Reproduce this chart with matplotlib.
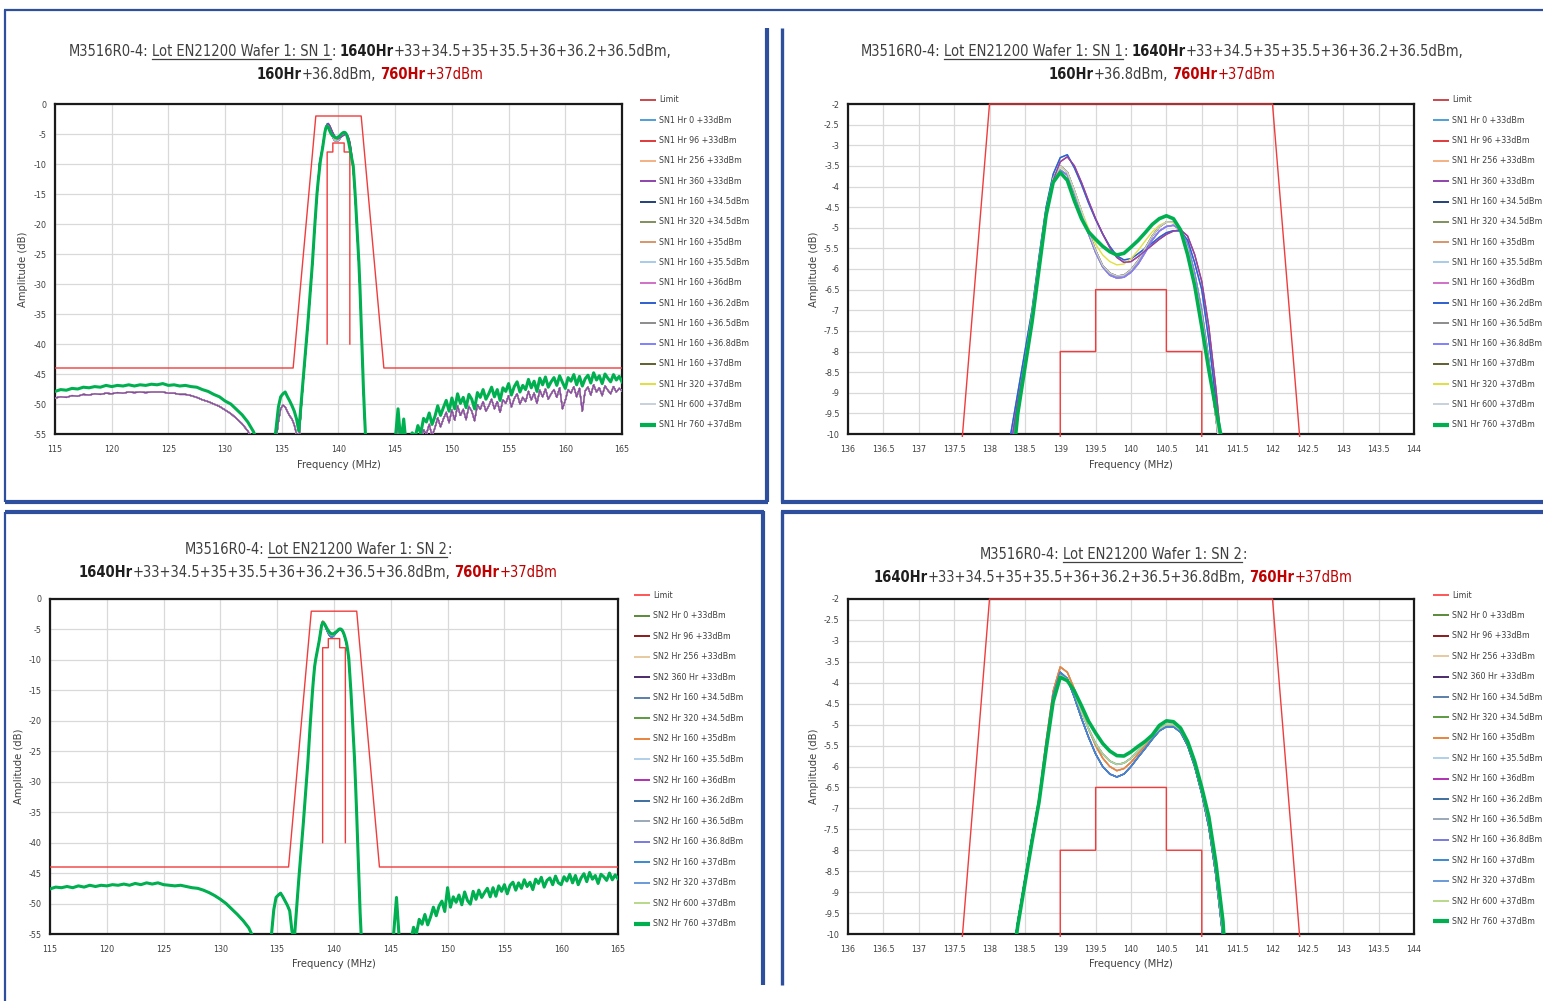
import os
import numpy as np
import matplotlib
matplotlib.use('Agg')
import matplotlib.pyplot as plt
from matplotlib import font_manager
from matplotlib.lines import Line2D
from matplotlib.ticker import MultipleLocator, FormatStrFormatter
from matplotlib.transforms import Bbox, TransformedBbox

# ---------------------------------------------------------------- data
LOW_FREQ = np.arange(115.0, 133.01, 0.5)          # 37 points
LEFT_FREQ = [134.3, 134.5, 134.7, 134.9, 135.1, 135.3, 135.5, 135.7, 135.9, 136.1,
             136.3, 136.5, 136.7, 136.9, 137.1, 137.3, 137.5, 137.7, 137.9, 138.1, 138.2]
PASS_FREQ = np.arange(138.3, 141.41, 0.1)         # 32 points
RIGHT_FREQ = [141.5, 141.6, 141.7, 141.8, 141.9, 142.0, 142.1, 142.2, 142.3, 142.4, 142.5, 142.7]
HIGH_FREQ = np.arange(144.5, 165.01, 0.25)        # 83 points

LIMIT_FREQ = [115, 136, 138, 142, 144, 165, np.nan, 139, 139, 139.5, 139.5, 140.5, 140.5, 141, 141]
LIMIT_DB = [-44, -44, -2, -2, -44, -44, np.nan, -40, -8, -8, -6.5, -6.5, -8, -8, -40]

# SN1 stop bands: green (760 Hr) and the other traces
SN1_G_LOW = [-47.9, -47.6, -47.7, -47.4, -47.5, -47.2, -47.3, -47.1, -47.2, -46.9,
             -47.1, -46.9, -47.0, -46.8, -47.0, -46.8, -46.9, -46.7, -46.8, -46.6,
             -46.9, -46.8, -47.0, -46.9, -47.1, -47.2, -47.6, -47.9, -48.4, -48.8,
             -49.5, -50.0, -50.9, -51.8, -53.0, -54.6, -57.0]
SN1_O_LOW = [-49.0, -48.8, -48.9, -48.6, -48.7, -48.4, -48.5, -48.3, -48.4, -48.2,
             -48.3, -48.1, -48.2, -48.0, -48.1, -48.0, -48.1, -48.0, -48.0, -48.0,
             -48.2, -48.2, -48.4, -48.4, -48.6, -48.9, -49.3, -49.6, -50.0, -50.4,
             -51.0, -51.6, -52.4, -53.3, -54.5, -56.0, -58.0]
SN1_G_LEFT = [-57.0, -54.0, -50.5, -48.8, -48.3, -48.0, -48.8, -49.5, -50.3, -51.2,
              -52.5, -54.5, -50.0, -45.5, -41.2, -36.5, -31.5, -26.5, -20.5, -15.0, -13.0]
SN1_O_LEFT = [-59.0, -56.0, -53.0, -50.8, -50.2, -50.5, -51.3, -52.0, -52.5, -53.5,
              -55.0, -56.5, -51.0, -46.0, -41.5, -36.8, -31.8, -26.8, -20.8, -15.3, -13.2]
SN1_G_RIGHT = [-16.0, -19.5, -23.0, -26.5, -31.0, -36.5, -42.0, -47.5, -52.0, -56.0, -59.0, -63.0]
SN1_O_RIGHT = [-16.5, -20.0, -23.5, -27.0, -31.5, -37.0, -42.5, -48.0, -52.5, -56.5, -59.5, -63.5]
SN1_G_HIGH = [-60.0, -58.0,
              -56.0, -50.8, -56.5, -52.5,
              -57.5, -56.0, -54.8, -55.6,
              -53.6, -54.9, -52.4, -53.0,
              -51.5, -53.4, -52.1, -50.3,
              -51.9, -50.6, -49.4, -51.2,
              -49.0, -50.8, -48.3, -49.9,
              -48.9, -50.6, -48.4, -49.2,
              -50.8, -48.1, -48.9, -47.6,
              -49.2, -48.3, -47.2, -48.8,
              -47.6, -49.4, -47.3, -47.9,
              -46.6, -48.5, -47.1, -46.3,
              -48.0, -46.9, -47.6, -45.9,
              -47.3, -46.2, -47.9, -45.7,
              -46.8, -45.5, -47.2, -46.3,
              -45.6, -46.9, -45.3, -46.4,
              -47.4, -45.6, -46.2, -45.1,
              -46.8, -45.4, -47.0, -45.8,
              -45.2, -46.5, -44.8, -46.0,
              -45.3, -46.6, -45.0, -45.7,
              -46.3, -45.1, -46.0, -45.4,
              -46.3]
SN1_O_HIGH = [-62.0, -60.0,
              -58.0, -52.8, -58.5, -54.5,
              -59.5, -58.0, -56.5, -57.4,
              -55.5, -56.7, -54.3, -55.0,
              -53.4, -55.3, -54.0, -52.3,
              -53.8, -52.5, -51.4, -53.1,
              -51.0, -52.7, -50.3, -51.9,
              -50.9, -52.6, -50.4, -51.2,
              -52.8, -50.1, -50.9, -49.6,
              -51.2, -50.3, -49.2, -50.8,
              -49.6, -51.4, -49.3, -49.9,
              -48.6, -50.5, -49.1, -48.3,
              -50.0, -48.9, -49.6, -47.9,
              -49.3, -48.2, -49.9, -47.7,
              -48.8, -47.5, -49.2, -48.3,
              -47.6, -48.9, -47.3, -50.8,
              -49.4, -47.6, -48.2, -47.1,
              -48.8, -47.4, -51.2, -47.8,
              -47.2, -48.5, -46.8, -48.0,
              -47.3, -48.6, -47.0, -47.7,
              -48.3, -47.1, -48.0, -47.4,
              -47.8]

# SN2 stop bands (all traces overlap)
SN2_G_LOW = [-47.6, -47.3, -47.4, -47.2, -47.4, -47.1, -47.3, -47.0, -47.2, -47.0,
             -47.1, -46.9, -47.0, -46.8, -47.0, -46.7, -46.9, -46.6, -46.8, -46.6,
             -46.9, -47.0, -47.1, -47.0, -47.2, -47.4, -47.5, -47.8, -48.2, -48.7,
             -49.3, -50.0, -50.9, -51.8, -52.8, -54.0, -56.0]
SN2_G_LEFT = [-58.0, -55.0, -51.0, -49.0, -48.6, -48.3, -48.9, -49.6, -50.3, -51.2,
              -54.5, -56.0, -51.0, -46.0, -41.5, -36.8, -31.8, -26.8, -20.8, -15.3, -13.0]
SN2_G_RIGHT = [-15.5, -19.0, -22.5, -26.0, -30.5, -35.5, -41.0, -46.5, -51.5, -55.5, -58.5, -63.0]
SN2_G_HIGH = [-60.0, -58.0,
              -56.5, -55.0, -49.0, -56.0,
              -58.0, -57.0, -55.3, -56.2,
              -53.9, -55.0, -52.6, -53.4,
              -51.8, -53.5, -52.2, -50.6,
              -52.0, -50.4, -49.6, -51.3,
              -47.4, -50.6, -48.9, -49.8,
              -48.6, -50.2, -48.1, -49.5,
              -50.1, -48.0, -49.3, -47.8,
              -49.0, -48.2, -47.5, -48.9,
              -47.4, -48.8, -47.1, -48.0,
              -46.9, -48.4, -47.0, -46.5,
              -47.8, -46.6, -47.5, -46.1,
              -47.2, -46.5, -47.7, -46.0,
              -46.7, -45.7, -47.3, -46.2,
              -45.8, -46.9, -45.5, -46.6,
              -46.9, -45.6, -46.3, -45.2,
              -46.6, -45.4, -46.9, -45.8,
              -45.1, -46.4, -44.9, -46.0,
              -45.4, -46.7, -45.2, -45.6,
              -46.2, -45.0, -46.1, -45.3,
              -45.9]

# pass-band shapes (on PASS_FREQ)
SN1_PASS_G = [-11.2, -9.5, -8.4, -7.3, -6.0, -4.7, -3.9,
              -3.66, -3.85, -4.35, -4.78, -5.1, -5.28, -5.45, -5.58, -5.66, -5.62,
              -5.47, -5.31, -5.12, -4.92, -4.78, -4.71, -4.78, -5.05, -5.65, -6.4,
              -7.4, -8.45, -9.4, -10.3, -13.0]
SN1_PASS_A = [-10.0, -9.0, -8.0, -7.0, -5.7, -4.5, -3.7,
              -3.3, -3.23, -3.55, -3.95, -4.4, -4.8, -5.15, -5.45, -5.68, -5.78,
              -5.75, -5.63, -5.5, -5.37, -5.23, -5.12, -5.07, -5.08, -5.3, -5.85,
              -6.5, -7.73, -9.2, -11.2, -13.5]
SN1_PASS_A2 = [-10.3, -9.2, -8.3, -7.3, -6.0, -4.75, -3.85,
               -3.4, -3.28, -3.5, -3.9, -4.35, -4.78, -5.15, -5.48, -5.72, -5.84,
               -5.82, -5.7, -5.56, -5.42, -5.28, -5.16, -5.08, -5.05, -5.2, -5.65,
               -6.3, -7.4, -8.9, -10.6, -13.2]
SN1_PASS_B = [-10.6, -9.5, -8.3, -7.1, -5.8, -4.6, -3.8,
              -3.5, -3.65, -4.1, -4.6, -5.1, -5.55, -5.92, -6.1, -6.17, -6.15,
              -6.02, -5.8, -5.5, -5.2, -4.98, -4.86, -4.86, -5.05, -5.5, -6.3,
              -7.2, -8.3, -9.6, -11.0, -13.5]
SN1_PASS_B2 = [-10.3, -9.3, -8.2, -7.1, -5.9, -4.7, -3.9,
               -3.6, -3.72, -4.15, -4.65, -5.15, -5.6, -5.95, -6.15, -6.22, -6.2,
               -6.08, -5.88, -5.6, -5.3, -5.08, -4.97, -4.94, -5.05, -5.4, -6.1,
               -7.0, -8.2, -9.6, -11.1, -13.6]
SN1_PASS_Y = [-10.8, -9.6, -8.4, -7.2, -5.9, -4.65, -3.82,
              -3.52, -3.66, -4.1, -4.58, -5.02, -5.4, -5.66, -5.82, -5.9, -5.88,
              -5.75, -5.55, -5.32, -5.1, -4.94, -4.86, -4.88, -5.05, -5.5, -6.25,
              -7.15, -8.3, -9.6, -11.0, -13.5]
SN2_PASS_G = [-11.0, -9.8, -8.8, -7.8, -6.85, -5.6, -4.45,
              -3.87, -3.95, -4.2, -4.55, -4.92, -5.2, -5.45, -5.63, -5.74, -5.75,
              -5.65, -5.52, -5.4, -5.25, -5.02, -4.91, -4.93, -5.08, -5.4, -5.88,
              -6.5, -7.2, -8.3, -9.7, -12.5]
SN2_PASS_R = [-10.9, -9.7, -8.7, -7.7, -6.75, -5.4, -4.2,
              -3.62, -3.75, -4.15, -4.65, -5.1, -5.5, -5.8, -6.0, -6.1, -6.05,
              -5.9, -5.7, -5.5, -5.3, -5.1, -5.0, -5.0, -5.13, -5.45, -5.95,
              -6.6, -7.35, -8.5, -10.0, -12.8]
SN2_PASS_S = [-10.9, -9.7, -8.7, -7.7, -6.8, -5.5, -4.3,
              -3.75, -3.9, -4.35, -4.85, -5.3, -5.7, -6.0, -6.18, -6.25, -6.18,
              -6.0, -5.78, -5.57, -5.35, -5.15, -5.05, -5.05, -5.18, -5.5, -6.0,
              -6.65, -7.45, -8.6, -10.1, -12.9]
SN2_PASS_T = [-10.95, -9.75, -8.75, -7.75, -6.85, -5.55, -4.4,
              -3.82, -3.92, -4.25, -4.7, -5.1, -5.45, -5.7, -5.87, -5.95, -5.92,
              -5.8, -5.62, -5.45, -5.28, -5.1, -5.0, -5.0, -5.13, -5.45, -5.95,
              -6.6, -7.35, -8.5, -10.0, -12.8]

SN1_LABELS = ['SN1 Hr 0 +33dBm', 'SN1 Hr 96 +33dBm', 'SN1 Hr 256 +33dBm', 'SN1 Hr 360 +33dBm',
              'SN1 Hr 160 +34.5dBm', 'SN1 Hr 320 +34.5dBm', 'SN1 Hr 160 +35dBm', 'SN1 Hr 160 +35.5dBm',
              'SN1 Hr 160 +36dBm', 'SN1 Hr 160 +36.2dBm', 'SN1 Hr 160 +36.5dBm', 'SN1 Hr 160 +36.8dBm',
              'SN1 Hr 160 +37dBm', 'SN1 Hr 320 +37dBm', 'SN1 Hr 600 +37dBm', 'SN1 Hr 760 +37dBm']
SN2_LABELS = ['SN2 Hr 0 +33dBm', 'SN2 Hr 96 +33dBm', 'SN2 Hr 256 +33dBm', 'SN2 360 Hr +33dBm',
              'SN2 Hr 160 +34.5dBm', 'SN2 Hr 320 +34.5dBm', 'SN2 Hr 160 +35dBm', 'SN2 Hr 160 +35.5dBm',
              'SN2 Hr 160 +36dBm', 'SN2 Hr 160 +36.2dBm', 'SN2 Hr 160 +36.5dBm', 'SN2 Hr 160 +36.8dBm',
              'SN2 Hr 160 +37dBm', 'SN2 Hr 320 +37dBm', 'SN2 Hr 600 +37dBm', 'SN2 Hr 760 +37dBm']
SN1_COLORS = ['#4f9fd8', '#e03a3a', '#f4b183', '#8e44ad', '#24407a', '#7f8f5c', '#d8956a', '#a9cbe8',
              '#d070c8', '#2e5fd0', '#8c8c8c', '#8080ff', '#5f5f30', '#e0e040', '#c8d0dc', '#00b050']
SN2_COLORS = ['#5a8a3a', '#8b1a1a', '#e6c9a0', '#4b2a6a', '#5b7fa8', '#5b9a40', '#e8843c', '#b0cfe8',
              '#b030b0', '#3e6e9e', '#9aa8b8', '#7a7ae0', '#3a8ad0', '#6a9ad8', '#b8d88a', '#00b050']
SN1_LIMIT_COLOR = '#c0282d'
SN2_LIMIT_COLOR = '#ff3a3a'
PLOT_LIMIT_COLOR = '#f03c3c'

SN1_SHAPES = [SN1_PASS_A, SN1_PASS_A2, SN1_PASS_B, SN1_PASS_A2, SN1_PASS_B2, SN1_PASS_B, SN1_PASS_B,
              SN1_PASS_B2, SN1_PASS_B2, SN1_PASS_A, SN1_PASS_B, SN1_PASS_B2, SN1_PASS_B, SN1_PASS_Y,
              SN1_PASS_B, SN1_PASS_G]
SN2_SHAPES = [SN2_PASS_T, SN2_PASS_R, SN2_PASS_R, SN2_PASS_S, SN2_PASS_S, SN2_PASS_T, SN2_PASS_R,
              SN2_PASS_T, SN2_PASS_S, SN2_PASS_S, SN2_PASS_T, SN2_PASS_S, SN2_PASS_S, SN2_PASS_T,
              SN2_PASS_T, SN2_PASS_G]

# ---------------------------------------------------------------- fonts
by_base = {}
for _f in font_manager.fontManager.ttflist:
    by_base.setdefault(os.path.basename(_f.fname), _f)
CONDENSED = [('LiberationSansNarrow-Regular.ttf', 'LiberationSansNarrow-Bold.ttf'),
             ('NotoSans-Condensed.ttf', 'NotoSans-CondensedBold.ttf'),
             ('NotoSans-SemiCondensed.ttf', 'NotoSans-SemiCondensedBold.ttf'),
             ('OpenSans-CondensedRegular.ttf', 'OpenSans-CondensedBold.ttf'),
             ('OpenSans_Condensed-Regular.ttf', 'OpenSans_Condensed-Bold.ttf'),
             ('DejaVuSansCondensed.ttf', 'DejaVuSansCondensed-Bold.ttf')]
FAMILY, STRETCH, BOOST = None, 'normal', 1.0
for reg, bld in CONDENSED:
    if reg in by_base:
        FAMILY = by_base[reg].name
        STRETCH = by_base[reg].stretch
        break
if FAMILY is None:
    names = {f.name for f in font_manager.fontManager.ttflist}
    FAMILY = next(n for n in ['Roboto', 'Open Sans', 'DejaVu Sans'] if n in names)
    BOOST = 1.1
plt.rcParams['font.family'] = [FAMILY, 'DejaVu Sans']
plt.rcParams['font.stretch'] = STRETCH
plt.rcParams['axes.unicode_minus'] = False

W, H = 1543, 1001
fig = plt.figure(figsize=(W / 100, H / 100), dpi=100)
fig.patch.set_facecolor('white')
R = fig.canvas.get_renderer()


def fx(x):
    return x / W


def fy(y):
    return 1 - y / H


def text_w(s, size, weight='normal'):
    t = fig.text(0, 0, s, fontsize=size, fontweight=weight)
    w = t.get_window_extent(renderer=R).width
    t.remove()
    return w


def fit_size(s, target, weight='normal'):
    return 10.0 * target / text_w(s, 10.0, weight)


def rich_layout(pieces, size):
    sp = {wt: text_w('a a', size, wt) - text_w('aa', size, wt) for wt in ('normal', 'bold')}
    ws = [text_w(p[0], size, p[1]) for p in pieces]
    total = sum(ws) + sum(sp[p[1]] for p in pieces if p[4])
    return ws, sp, total


def draw_rich(pieces, cx, base_y, size):
    ws, sp, total = rich_layout(pieces, size)
    x = cx - total / 2
    for p, w in zip(pieces, ws):
        fig.text(fx(x), fy(base_y), p[0], fontsize=size, fontweight=p[1], color=p[2],
                 ha='left', va='baseline')
        if p[3]:
            fig.add_artist(Line2D([fx(x), fx(x + w)], [fy(base_y + 2.5)] * 2,
                                  transform=fig.transFigure, color=p[2], lw=0.9))
        x += w + (sp[p[1]] if p[4] else 0)


GRAY = '#404040'
DARK = '#1e1e1e'
RED = '#c00000'


def title_lines(sn):
    if sn == 1:
        l1 = [('M3516R0-4:', 'normal', GRAY, False, True),
              ('Lot EN21200 Wafer 1: SN 1', 'normal', GRAY, True, False),
              (':', 'normal', GRAY, False, True),
              ('1640Hr', 'bold', DARK, False, False),
              ('+33+34.5+35+35.5+36+36.2+36.5dBm,', 'normal', GRAY, False, False)]
        l2 = [('160Hr', 'bold', DARK, False, False),
              ('+36.8dBm,', 'normal', GRAY, False, True),
              ('760Hr', 'bold', RED, False, False),
              ('+37dBm', 'normal', RED, False, False)]
    else:
        l1 = [('M3516R0-4:', 'normal', GRAY, False, True),
              ('Lot EN21200 Wafer 1: SN 2', 'normal', GRAY, True, False),
              (':', 'normal', GRAY, False, False)]
        l2 = [('1640Hr', 'bold', DARK, False, False),
              ('+33+34.5+35+35.5+36+36.2+36.5+36.8dBm,', 'normal', GRAY, False, True),
              ('760Hr', 'bold', RED, False, False),
              ('+37dBm', 'normal', RED, False, False)]
    return l1, l2


_, _, w10 = rich_layout(title_lines(1)[0], 10.0)
TITLE_SIZE = 10.0 * 604 / w10
TICK_SIZE = fit_size('136.5', 21) * BOOST * 1.08
LABEL_SIZE = fit_size('Frequency (MHz)', 84) * BOOST
LEG_SIZE = fit_size('SN1 Hr 160 +34.5dBm', 91) * BOOST

PANELS = [
    dict(sn=1, wide=True, ax=(55, 104, 622, 434), leg=(640, 656, 659, 100, 20.3), tcx=370, ty=(50, 73),
         ylab=22, xlab=466),
    dict(sn=1, wide=False, ax=(848, 104, 1414, 434), leg=(1433, 1449, 1452, 100, 20.3), tcx=1162, ty=(50, 73),
         ylab=813, xlab=466),
    dict(sn=2, wide=True, ax=(50, 599, 618, 934), leg=(634, 650, 653, 595, 20.56), tcx=318, ty=(548, 571),
         ylab=18, xlab=965),
    dict(sn=2, wide=False, ax=(848, 599, 1414, 934), leg=(1433, 1449, 1452, 595, 20.4), tcx=1113, ty=(553, 576),
         ylab=813, xlab=965),
]


def full_curve(sn, idx):
    shapes = SN1_SHAPES if sn == 1 else SN2_SHAPES
    green = (idx == 15)
    if sn == 1:
        low, left, right, high = ((SN1_G_LOW, SN1_G_LEFT, SN1_G_RIGHT, SN1_G_HIGH) if green
                                  else (SN1_O_LOW, SN1_O_LEFT, SN1_O_RIGHT, SN1_O_HIGH))
    else:
        low, left, right, high = SN2_G_LOW, SN2_G_LEFT, SN2_G_RIGHT, SN2_G_HIGH
    f = np.concatenate([LOW_FREQ, LEFT_FREQ, PASS_FREQ, RIGHT_FREQ, HIGH_FREQ])
    a = np.concatenate([low, left, shapes[idx], right, high])
    return f, a


for P in PANELS:
    x0, y0, x1, y1 = P['ax']
    ax = fig.add_axes([fx(x0), fy(y1), fx(x1 - x0), (y1 - y0) / H])
    sn, wide = P['sn'], P['wide']
    labels = SN1_LABELS if sn == 1 else SN2_LABELS
    colors = SN1_COLORS if sn == 1 else SN2_COLORS

    lim, = ax.plot(LIMIT_FREQ, LIMIT_DB, color=PLOT_LIMIT_COLOR, lw=1.0, zorder=3)
    lim.set_clip_box(TransformedBbox(Bbox([[0, -0.01], [1, 1.01]]), ax.transAxes))
    for i in range(16):
        f, a = full_curve(sn, i)
        if i == 15:
            lw, z = (2.2 if wide else 2.6), 5
        else:
            lw, z = (0.9 if wide else 1.0), (4 if (sn == 1 and i == 3) else 3.5)
        ax.plot(f, a, color=colors[i], lw=lw, zorder=z, solid_joinstyle='round')

    if wide:
        ax.set_xlim(115, 165)
        ax.set_ylim(-55, 0)
        ax.xaxis.set_major_locator(MultipleLocator(5))
        ax.yaxis.set_major_locator(MultipleLocator(5))
    else:
        ax.set_xlim(136, 144)
        ax.set_ylim(-10, -2)
        ax.xaxis.set_major_locator(MultipleLocator(0.5))
        ax.yaxis.set_major_locator(MultipleLocator(0.5))
    ax.xaxis.set_major_formatter(FormatStrFormatter('%g'))
    ax.yaxis.set_major_formatter(FormatStrFormatter('%g'))
    ax.grid(True, color='#d9d9d9', lw=0.9)
    ax.set_axisbelow(True)
    ax.tick_params(axis='both', length=0, labelsize=TICK_SIZE, colors='#404040')
    ax.tick_params(axis='y', pad=6)
    ax.tick_params(axis='x', pad=8)
    for s in ax.spines.values():
        s.set_linewidth(1.6)
        s.set_color('#1a1a1a')
        s.set_zorder(2.6)
    ax.set_xlabel('Frequency (MHz)', fontsize=LABEL_SIZE, color='#404040')
    ax.set_ylabel('Amplitude (dB)', fontsize=LABEL_SIZE, color='#404040')
    ax.xaxis.set_label_coords(0.5, (y1 - (P['xlab'] - 6)) / (y1 - y0))
    ax.yaxis.set_label_coords((P['ylab'] + 6 - x0) / (x1 - x0), 0.5)

    # legend
    hx0, hx1, tx, ly0, pitch = P['leg']
    entries = [('Limit', SN1_LIMIT_COLOR if sn == 1 else SN2_LIMIT_COLOR, 1.2)]
    entries += [(labels[i], colors[i], 3.0 if i == 15 else 1.4) for i in range(16)]
    for k, (lab, c, lw) in enumerate(entries):
        yy = ly0 + k * pitch
        fig.add_artist(Line2D([fx(hx0), fx(hx1)], [fy(yy)] * 2, transform=fig.transFigure,
                              color=c, lw=lw, solid_capstyle='butt'))
        fig.text(fx(tx), fy(yy), lab, fontsize=LEG_SIZE, color='#404040', ha='left', va='center')

    # title
    l1, l2 = title_lines(sn)
    draw_rich(l1, P['tcx'], P['ty'][0] + 6, TITLE_SIZE)
    draw_rich(l2, P['tcx'], P['ty'][1] + 6, TITLE_SIZE)

# panel frames
BLUE = '#2d4f9e'


def hline(y, xa, xb, lw):
    fig.add_artist(Line2D([fx(xa), fx(xb)], [fy(y)] * 2, transform=fig.transFigure, color=BLUE, lw=lw,
                          solid_capstyle='butt'))


def vline(x, ya, yb, lw):
    fig.add_artist(Line2D([fx(x)] * 2, [fy(ya), fy(yb)], transform=fig.transFigure, color=BLUE, lw=lw,
                          solid_capstyle='butt'))


hline(10, 4, 1543, 1.6)
vline(5, 10, 502, 1.6)
vline(767, 28, 502, 3.0)
hline(502, 5, 768, 3.0)
vline(782, 28, 502, 2.4)
hline(502, 781, 1543, 3.0)
hline(512, 5, 764, 3.0)
vline(763, 511, 985, 3.0)
vline(5, 512, 1001, 1.6)
hline(512, 781, 1543, 3.0)
vline(782, 511, 985, 2.4)

fig.savefig('out.png', dpi=100, facecolor='white')
